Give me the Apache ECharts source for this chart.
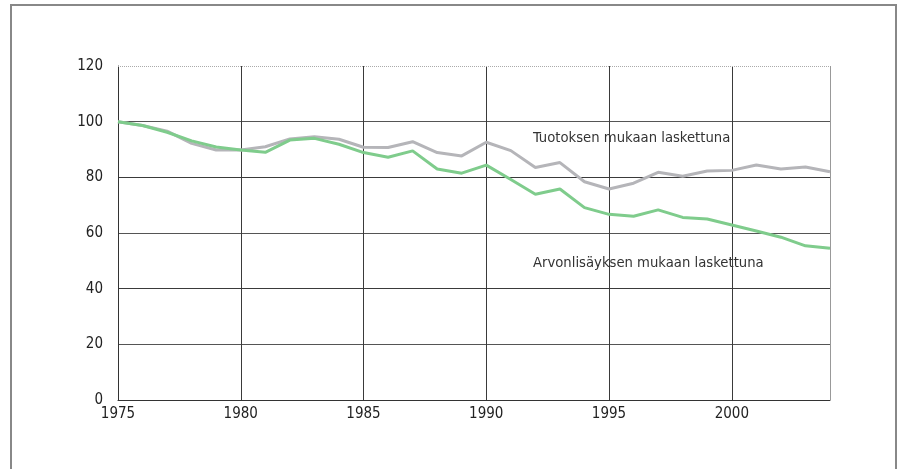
<!DOCTYPE html>
<html>
<head>
<meta charset="utf-8">
<script src="https://cdn.jsdelivr.net/npm/echarts@6/dist/echarts.min.js"></script>
<style>
html,body{margin:0;padding:0;background:#fff;}
#chart{width:899px;height:469px;}
</style>
</head>
<body>
<div id="chart"></div>
<script>
var years = [1975,1976,1977,1978,1979,1980,1981,1982,1983,1984,1985,1986,1987,1988,1989,1990,1991,1992,1993,1994,1995,1996,1997,1998,1999,2000,2001,2002,2003,2004];
var tuotos = [100,98.6,96.6,92.2,89.8,89.8,91,93.8,94.6,93.7,90.8,90.7,92.8,88.9,87.7,92.6,89.6,83.5,85.3,78.4,75.8,77.9,81.8,80.4,82.3,82.5,84.4,83,83.7,82];
var arvonlisays = [100,98.6,96.2,93.1,90.9,89.8,89,93.4,94,91.9,88.9,87.2,89.5,83,81.5,84.4,79.2,73.9,75.8,69.1,66.7,66,68.3,65.6,65,62.9,60.7,58.5,55.4,54.5];
var labelTuotos = 'Tuotoksen mukaan laskettuna';
var labelArvo = 'Arvonlisäyksen mukaan laskettuna';

var font = '"Liberation Sans Narrow","DejaVu Sans Condensed","Noto Sans",sans-serif';
function pairs(v){ return years.map(function(y,i){ return [y, v[i]]; }); }

var chart = echarts.init(document.getElementById('chart'), null, {renderer:'canvas'});
chart.setOption({
  animation:false,
  backgroundColor:'#fff',
  grid:{left:118, right:69, top:66, bottom:69, containLabel:false},
  xAxis:{
    type:'value', min:1975, max:2004, interval:5,
    axisLine:{show:true, lineStyle:{color:'#333', width:1}},
    axisTick:{show:false},
    axisLabel:{color:'#222', fontSize:15, fontFamily:font, margin:7, showMaxLabel:false,
      formatter:function(v){ return v % 5 === 0 ? String(v) : ''; }},
    splitLine:{show:true, lineStyle:{color:['#3a3a3a','#3a3a3a','#3a3a3a','#3a3a3a','#3a3a3a','#3a3a3a','#999'], width:1}}
  },
  yAxis:{
    type:'value', min:0, max:120, interval:20,
    axisLine:{show:true, lineStyle:{color:'#333', width:1}},
    axisTick:{show:false},
    axisLabel:{color:'#222', fontSize:15, fontFamily:font, margin:15},
    splitLine:{show:true, lineStyle:{color:['#3a3a3a','#555','#3a3a3a','#555','#3a3a3a','#555','transparent'], width:1}}
  },
  series:[
    {type:'line', data:pairs(tuotos), symbol:'none', lineStyle:{color:'#b5b5b9', width:3}, z:3,
     markLine:{silent:true, symbol:'none', label:{show:false},
       lineStyle:{color:'#aaa', type:'dotted', width:1},
       data:[{yAxis:120}]}},
    {type:'line', data:pairs(arvonlisays), symbol:'none', lineStyle:{color:'#7fcc8c', width:3}, z:4}
  ],
  graphic:[
    {type:'rect', shape:{x:11, y:5, width:885, height:480}, style:{fill:'none', stroke:'#888', lineWidth:2}, silent:true},
    {type:'text', x:533, y:138, style:{text:labelTuotos, font:'14.7px '+font, fill:'#333', verticalAlign:'middle'}},
    {type:'text', x:533, y:263, style:{text:labelArvo, font:'14.7px '+font, fill:'#333', verticalAlign:'middle'}}
  ]
});
</script>
</body>
</html>
